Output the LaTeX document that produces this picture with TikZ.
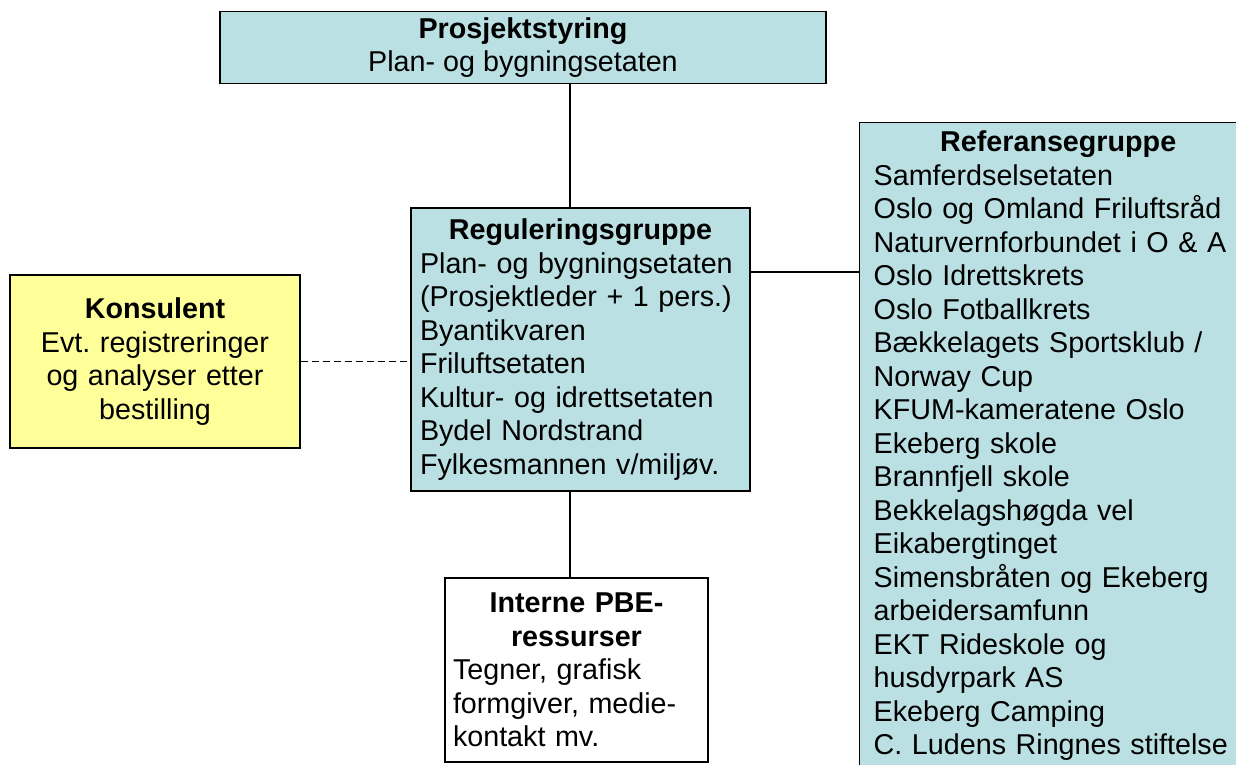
\documentclass[tikz,border=0pt]{standalone}
\usepackage{fontspec}
\setmainfont{Liberation Sans}
\usepackage{tikz}
\usetikzlibrary{positioning}
\definecolor{boxblue}{RGB}{187,224,227}
\definecolor{boxyellow}{RGB}{255,255,153}
\frenchspacing

\tikzset{
  orgbox/.style={draw, line width=1.4pt, fill=boxblue, inner ysep=6pt,
                 font=\fontsize{28.7}{33.5}\selectfont},
  link/.style={line width=1.2pt},
}

\begin{document}
\begin{tikzpicture}[x=1pt,y=-1pt]
\useasboundingbox (0,0) rectangle (1236,764);
\clip (0,0) rectangle (1236,764);

\node[orgbox, minimum width=606pt, minimum height=69pt, align=center] (styr) at (523,47.5)
  {\textbf{Prosjektstyring}\\Plan- og bygningsetaten};

\node[orgbox, minimum width=339pt, minimum height=283pt, text width=321pt, inner xsep=9pt, align=left] (regul) at (580.5,349.5)
  {{\centering\bfseries Reguleringsgruppe\par}
   Plan- og bygningsetaten\\(Prosjektleder + 1 pers.)\\Byantikvaren\\Friluftsetaten\\
   Kultur- og idrettsetaten\\Bydel Nordstrand\\Fylkesmannen v/miljøv.};

\node[orgbox, fill=boxyellow, minimum width=290pt, minimum height=173pt, text width=270pt, align=center] (kons) at (155,361.5)
  {\textbf{Konsulent}\\Evt. registreringer\\og analyser etter\\bestilling\par\vspace*{4pt}};

\node[orgbox, fill=white, minimum width=263pt, minimum height=184pt, text width=247pt, inner xsep=8pt, align=left] (intern) at (576.5,670)
  {{\centering\bfseries Interne PBE-\\ressurser\par}
   Tegner, grafisk\\formgiver, medie-\\kontakt mv.};

\node[orgbox, anchor=north west, text width=369pt, inner xsep=14pt, inner ysep=8pt, align=left] (ref) at (859,122)
  {{\centering\bfseries Referansegruppe\par}
   Samferdselsetaten\\Oslo og Omland Friluftsråd\\Naturvernforbundet i O \& A\\
   Oslo Idrettskrets\\Oslo Fotballkrets\\Bækkelagets Sportsklub /\\Norway Cup\\
   KFUM-kameratene Oslo\\Ekeberg skole\\Brannfjell skole\\Bekkelagshøgda vel\\
   Eikabergtinget\\Simensbråten og Ekeberg\\arbeidersamfunn\\EKT Rideskole og\\
   husdyrpark AS\\Ekeberg Camping\\C. Ludens Ringnes stiftelse\par\vspace*{40pt}};

% connectors
\draw[link] ([xshift=-10.5pt]regul.north) -- ([xshift=-10.5pt]regul.north |- styr.south);
\draw[link] ([yshift=77.5pt]regul.east) coordinate (r) -- (r -| ref.west);
\draw[link, dash pattern=on 7pt off 4pt] (kons.east) -- (kons.east -| regul.west);
\draw[link] ([xshift=-10.5pt]regul.south) -- ([xshift=-10.5pt]regul.south |- intern.north);
\end{tikzpicture}
\end{document}
